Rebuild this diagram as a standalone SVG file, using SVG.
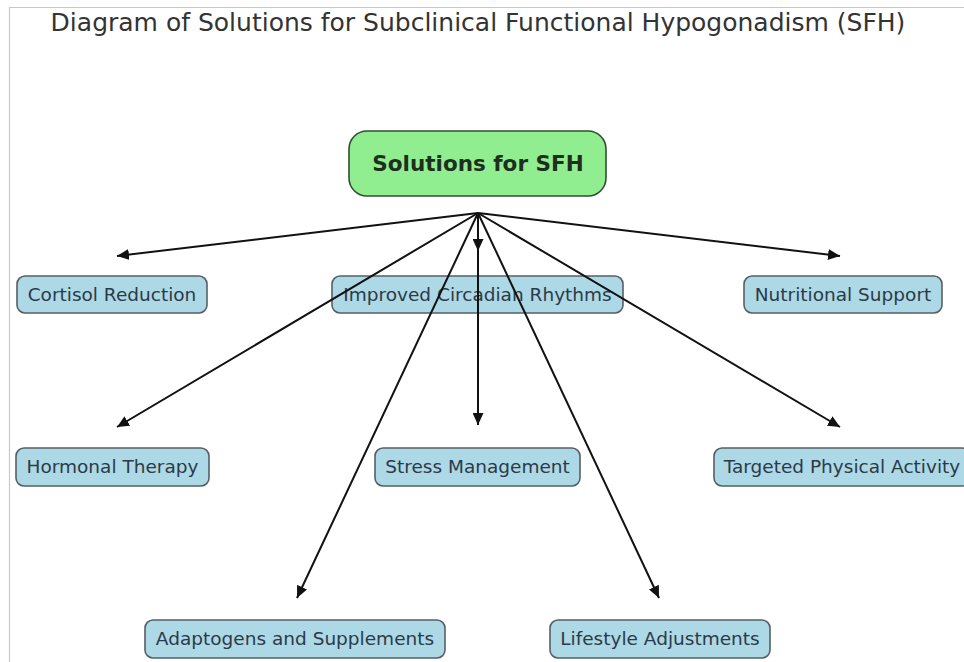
<svg xmlns="http://www.w3.org/2000/svg" width="964" height="662" viewBox="0 0 964 662">
<style>
.bg{fill:#ffffff}
.frame{fill:none;stroke:#c8c8c8;stroke-width:1.2}
.title{font-family:"DejaVu Sans",sans-serif;font-size:25px;fill:#333333;text-anchor:middle}
.hub rect{fill:#90ee90;stroke:#2f4f2f;stroke-width:1.6}
.hub text{font-family:"DejaVu Sans",sans-serif;font-weight:bold;font-size:21.5px;fill:#1f2f1f;text-anchor:middle;dominant-baseline:central}
.node rect{fill:#add8e6;stroke:#555f66;stroke-width:1.6}
.node text{font-family:"DejaVu Sans",sans-serif;font-size:18.5px;fill:#2c3a46;text-anchor:middle;dominant-baseline:central}
.conn line{stroke:#111111;stroke-width:2;marker-end:url(#ah)}
</style>
<defs>
<marker id="ah" markerUnits="userSpaceOnUse" markerWidth="13" markerHeight="11" refX="12" refY="5.5" orient="auto">
<path d="M0,0 L12,5.5 L0,11 Z" fill="#111111"/>
</marker>
</defs>
<rect class="bg" x="0" y="0" width="964" height="662"/>
<path class="frame" d="M9.5,662 L9.5,7.5 L964,7.5"/>
<text class="title" x="478" y="31">Diagram of Solutions for Subclinical Functional Hypogonadism (SFH)</text>

<g id="node-hub" class="hub">
<rect x="349" y="131" width="257" height="65" rx="18"/>
<text x="478" y="163">Solutions for SFH</text>
</g>
<g id="node-cortisol" class="node">
<rect x="17" y="276" width="190" height="37" rx="8"/>
<text x="112" y="294">Cortisol Reduction</text>
</g>
<g id="node-circadian" class="node">
<rect x="332" y="276" width="291" height="37" rx="8"/>
<text x="477.5" y="294">Improved Circadian Rhythms</text>
</g>
<g id="node-nutrition" class="node">
<rect x="744" y="276" width="198" height="37" rx="8"/>
<text x="843" y="294">Nutritional Support</text>
</g>
<g id="node-hormonal" class="node">
<rect x="16" y="448" width="193" height="38" rx="8"/>
<text x="112.5" y="466.5">Hormonal Therapy</text>
</g>
<g id="node-stress" class="node">
<rect x="375" y="448" width="205" height="38" rx="8"/>
<text x="477.5" y="466.5">Stress Management</text>
</g>
<g id="node-physical" class="node">
<rect x="714" y="448" width="256" height="38" rx="8"/>
<text x="842" y="466.5">Targeted Physical Activity</text>
</g>
<g id="node-adaptogens" class="node">
<rect x="145" y="620" width="300" height="38" rx="8"/>
<text x="295" y="638.5">Adaptogens and Supplements</text>
</g>
<g id="node-lifestyle" class="node">
<rect x="550" y="620" width="220" height="38" rx="8"/>
<text x="660" y="638.5">Lifestyle Adjustments</text>
</g>

<g id="connectors" class="conn">
<line x1="478" y1="213" x2="117" y2="256"/>
<line x1="478" y1="213" x2="478" y2="251"/>
<line x1="478" y1="213" x2="840" y2="256"/>
<line x1="478" y1="213" x2="117" y2="427"/>
<line x1="478" y1="213" x2="478" y2="425"/>
<line x1="478" y1="213" x2="840" y2="427"/>
<line x1="478" y1="213" x2="297" y2="598"/>
<line x1="478" y1="213" x2="659" y2="598"/>
</g>
</svg>
